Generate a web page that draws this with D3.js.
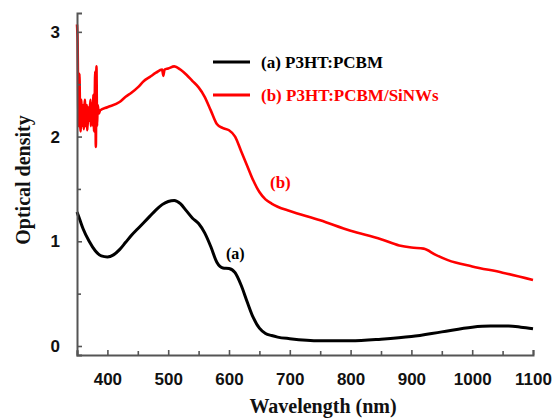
<!DOCTYPE html>
<html>
<head>
<meta charset="utf-8">
<script src="https://cdn.jsdelivr.net/npm/d3@7"></script>
<style>
  body { margin: 0; background: #fff; }
  svg { display: block; }
</style>
</head>
<body>
<div id="chart"></div>
<script>
// wavelength (nm) / optical density
const waveA = [350, 355, 360, 370, 380, 390, 400, 410, 420, 430, 440, 450, 460, 470, 480, 490, 500, 510, 520, 530, 540, 550, 560, 570, 580, 590, 600, 610, 620, 630, 640, 650, 660, 670, 680, 700, 750, 800, 850, 900, 950, 1000, 1030, 1060, 1080, 1100];
const odA = [1.28, 1.20, 1.12, 1.00, 0.91, 0.86, 0.85, 0.87, 0.92, 0.99, 1.06, 1.12, 1.18, 1.24, 1.30, 1.35, 1.38, 1.39, 1.36, 1.29, 1.22, 1.17, 1.08, 0.95, 0.80, 0.745, 0.74, 0.70, 0.58, 0.42, 0.27, 0.17, 0.12, 0.10, 0.085, 0.07, 0.05, 0.05, 0.065, 0.09, 0.135, 0.18, 0.19, 0.19, 0.18, 0.165];

const waveB = [350, 351, 352, 353, 354, 355, 356, 357, 358, 360, 361, 363, 364, 366, 367, 369, 370, 372, 373, 375, 376, 377, 378, 379, 380, 381, 382, 383, 384, 386, 388, 400, 420, 430, 440, 450, 460, 470, 480, 490, 492, 494, 500, 510, 520, 530, 540, 550, 560, 570, 580, 590, 600, 610, 620, 630, 640, 650, 660, 670, 680, 700, 750, 800, 850, 880, 900, 920, 940, 960, 1000, 1050, 1100];
const odB = [3.07, 2.90, 2.30, 2.10, 2.60, 2.20, 2.05, 2.35, 2.10, 2.30, 2.07, 2.35, 2.10, 2.30, 2.06, 2.28, 2.15, 2.35, 2.10, 2.32, 2.10, 2.40, 2.05, 2.30, 2.62, 1.90, 2.67, 2.10, 2.30, 2.22, 2.25, 2.28, 2.33, 2.38, 2.42, 2.47, 2.53, 2.57, 2.61, 2.64, 2.58, 2.64, 2.65, 2.67, 2.64, 2.59, 2.53, 2.47, 2.38, 2.25, 2.12, 2.08, 2.06, 2.00, 1.86, 1.72, 1.58, 1.47, 1.40, 1.36, 1.33, 1.29, 1.20, 1.10, 1.02, 0.96, 0.94, 0.93, 0.87, 0.82, 0.76, 0.70, 0.63];

const xTicks = [400, 500, 600, 700, 800, 900, 1000, 1100];
const xMinor = [350, 450, 550, 650, 750, 850, 950, 1050];
const yTicks = [0, 1, 2, 3];
const yMinor = [0.5, 1.5, 2.5];

const seriesNames = ['(a) P3HT:PCBM', '(b) P3HT:PCBM/SiNWs'];
const seriesColors = ['#000000', '#ff0000'];

const width = 557, height = 419;
const svg = d3.select('#chart').append('svg').attr('width', width).attr('height', height);

const x = d3.scaleLinear().domain([350, 1100]).range([77, 533]);
const y = d3.scaleLinear().domain([-0.086, 3.18]).range([355, 13]);
const axisColor = '#555';

// curves first, axes drawn on top
const line = d3.line().x((d) => x(d[0])).y((d) => y(d[1])).curve(d3.curveMonotoneX);
const seriesA = waveA.map((w, i) => [w, odA[i]]);
const seriesB = waveB.map((w, i) => [w, odB[i]]);

svg.append('path').datum(seriesB).attr('d', line)
  .attr('fill', 'none').attr('stroke', seriesColors[1]).attr('stroke-width', 2.6).attr('stroke-linejoin', 'round');
svg.append('path').datum(seriesA).attr('d', line)
  .attr('fill', 'none').attr('stroke', seriesColors[0]).attr('stroke-width', 3).attr('stroke-linejoin', 'round');

// x axis (ticks inward)
svg.append('g').attr('transform', `translate(0,${y.range()[0]})`)
  .call(d3.axisBottom(x).tickValues(xTicks).tickSize(-5).tickPadding(18).tickFormat(d3.format('d')));
svg.append('g').attr('transform', `translate(0,${y.range()[0]})`)
  .call(d3.axisBottom(x).tickValues(xMinor).tickSize(-4).tickFormat(''))
  .select('.domain').remove();

// y axis (ticks inward)
svg.append('g').attr('transform', `translate(${x.range()[0]},0)`)
  .call(d3.axisLeft(y).tickValues(yTicks).tickSize(-5).tickPadding(17).tickFormat(d3.format('d')));
svg.append('g').attr('transform', `translate(${x.range()[0]},0)`)
  .call(d3.axisLeft(y).tickValues(yMinor).tickSize(-4).tickFormat(''))
  .select('.domain').remove();

svg.selectAll('.domain').attr('stroke', axisColor).attr('stroke-width', 2);
svg.selectAll('.tick line').attr('stroke', axisColor).attr('stroke-width', 1.6);
svg.selectAll('.tick text')
  .attr('font-family', '"Liberation Sans", Arial, sans-serif')
  .attr('font-weight', 'bold').attr('font-size', 17).attr('fill', '#111');

// axis titles
svg.append('text')
  .attr('x', 323).attr('y', 413)
  .attr('text-anchor', 'middle')
  .attr('font-family', '"Liberation Serif", "Times New Roman", serif')
  .attr('font-weight', 'bold').attr('font-size', 20).attr('fill', '#111')
  .text('Wavelength (nm)');
svg.append('text')
  .attr('transform', 'rotate(-90)').attr('x', -180).attr('y', 30)
  .attr('text-anchor', 'middle')
  .attr('font-family', '"Liberation Serif", "Times New Roman", serif')
  .attr('font-weight', 'bold').attr('font-size', 20).attr('fill', '#111')
  .text('Optical density');

// legend
const legend = svg.append('g');
seriesNames.forEach((name, i) => {
  const ly = 62 + i * 33;
  legend.append('line')
    .attr('x1', 213).attr('x2', 250).attr('y1', ly).attr('y2', ly)
    .attr('stroke', seriesColors[i]).attr('stroke-width', 3);
  legend.append('text')
    .attr('x', 261).attr('y', ly + 6)
    .attr('font-family', '"Liberation Serif", "Times New Roman", serif')
    .attr('font-weight', 'bold').attr('font-size', 17)
    .attr('fill', seriesColors[i])
    .text(name);
});

// curve labels
svg.append('text')
  .attr('x', 226).attr('y', 259)
  .attr('font-family', '"Liberation Serif", "Times New Roman", serif')
  .attr('font-weight', 'bold').attr('font-size', 16).attr('fill', '#000')
  .text('(a)');
svg.append('text')
  .attr('x', 270).attr('y', 188)
  .attr('font-family', '"Liberation Serif", "Times New Roman", serif')
  .attr('font-weight', 'bold').attr('font-size', 17).attr('fill', seriesColors[1])
  .text('(b)');
</script>
</body>
</html>
